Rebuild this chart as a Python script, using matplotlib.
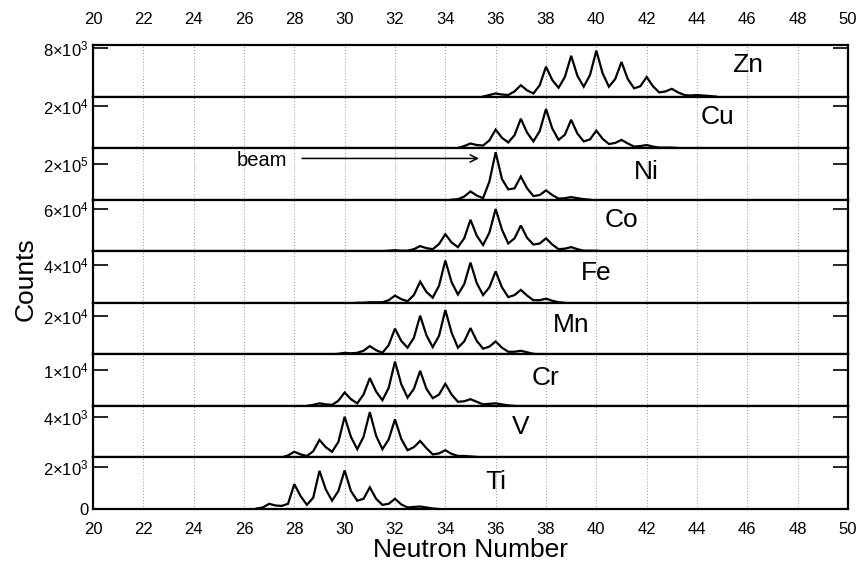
import matplotlib
matplotlib.use("Agg")
import matplotlib.pyplot as plt
import numpy as np

plt.rcParams['font.family'] = ['Liberation Sans', 'DejaVu Sans']
plt.rcParams['mathtext.fontset'] = 'custom'
plt.rcParams['mathtext.rm'] = 'Liberation Sans'
plt.rcParams['mathtext.it'] = 'Liberation Sans:italic'
plt.rcParams['mathtext.bf'] = 'Liberation Sans:bold'

# ---- data (counts sampled every 0.25 in neutron number) ----
elements = ["Zn", "Cu", "Ni", "Co", "Fe", "Mn", "Cr", "V", "Ti"]
bin_width = 0.25

zn_start = 35.5
zn_counts = [0, 260, 510, 340, 260, 850, 1870, 1020, 510, 1870, 4930, 2720, 1450, 3230,
             6720, 3400, 1620, 3570, 7570, 3830, 1620, 2890, 5700, 2890, 1360, 1700, 3230,
             1700, 680, 850, 1280, 680, 260, 170, 260, 170, 90, 0]

cu_start = 34.5
cu_counts = [0, 990, 2220, 1480, 1240, 3710, 8890, 4940, 2720, 6180, 14080, 7410, 3210, 8150,
             18770, 9390, 3950, 6420, 13590, 6920, 3210, 4200, 8400, 4450, 1980, 2470, 3950,
             2220, 740, 990, 1480, 740, 250, 250, 250, 0]

ni_start = 34.25
ni_counts = [0, 2900, 17400, 46400, 23200, 8700, 101500, 266800, 116000, 58000, 63800, 130500,
             63800, 20300, 26100, 52200, 26100, 5800, 8700, 14500, 8700, 2900, 0]

co_start = 31.5
co_counts = [0, 740, 1480, 740, 740, 2960, 7400, 4440, 2960, 10360, 24420, 12580, 5920, 18500,
             45140, 22200, 8880, 26640, 60680, 31080, 11100, 18500, 37000, 19240, 9620, 11100,
             18500, 9620, 2960, 3700, 5920, 2960, 740, 740, 740, 0]

fe_start = 30.5
fe_counts = [0, 0, 550, 550, 550, 2750, 7700, 3850, 1650, 8250, 22550, 11550, 5500, 18150,
             45100, 22000, 8800, 19800, 42900, 20900, 8250, 16500, 33550, 16500, 6050, 8250,
             13750, 7700, 2750, 2750, 4400, 2200, 550, 0]

mn_start = 29.5
mn_counts = [0, 270, 800, 530, 800, 1870, 4270, 2140, 800, 4810, 13350, 6940, 3470, 8540,
             20030, 9880, 3740, 9610, 22960, 11210, 3470, 6680, 13620, 6940, 2940, 4010, 6680,
             3470, 1340, 1340, 1870, 1070, 270, 0]

cr_start = 28.5
cr_counts = [0, 290, 730, 440, 290, 1450, 3770, 1890, 730, 3190, 7830, 4060, 1600, 5080, 12470,
             6090, 2320, 4790, 9860, 4790, 2180, 3190, 6240, 3190, 1160, 1310, 1890, 1160, 440,
             580, 730, 440, 150, 0]

v_start = 27.5
v_counts = [0, 200, 560, 300, 150, 610, 1720, 1010, 560, 1520, 4000, 2020, 810, 2020, 4450,
            2130, 810, 1770, 3740, 1820, 710, 1010, 1620, 910, 300, 400, 710, 350, 150, 150,
            100, 50, 0]

ti_start = 26.5
ti_counts = [25, 75, 250, 170, 150, 250, 1190, 620, 200, 540, 1830, 940, 400, 860, 1850, 860,
             400, 490, 1040, 490, 200, 250, 490, 220, 75, 100, 120, 75, 25, 0]

starts = [zn_start, cu_start, ni_start, co_start, fe_start, mn_start, cr_start, v_start, ti_start]
series = [zn_counts, cu_counts, ni_counts, co_counts, fe_counts, mn_counts, cr_counts, v_counts, ti_counts]

panel_max = [8500, 24700, 290000, 74000, 55000, 26700, 14500, 5060, 2470]
tick_values = [8e3, 2e4, 2e5, 6e4, 4e4, 2e4, 1e4, 4e3, 2e3]
tick_labels = [r"$8{\times}10^{3}$", r"$2{\times}10^{4}$", r"$2{\times}10^{5}$",
               r"$6{\times}10^{4}$", r"$4{\times}10^{4}$", r"$2{\times}10^{4}$",
               r"$1{\times}10^{4}$", r"$4{\times}10^{3}$", r"$2{\times}10^{3}$"]

# label positions (neutron number, fraction of panel height)
label_x = [46.0, 44.8, 42.0, 41.0, 40.0, 39.0, 38.0, 37.0, 36.0]
label_y = [0.62, 0.60, 0.53, 0.60, 0.58, 0.56, 0.54, 0.60, 0.53]

x_ticks = list(range(20, 51, 2))

fig = plt.figure(figsize=(8.64, 5.69), dpi=100)
axes = fig.subplots(len(elements), 1, sharex=True, gridspec_kw=dict(hspace=0))
fig.subplots_adjust(left=0.1076, right=0.9815, top=0.9209, bottom=0.1054)

last = len(elements) - 1
for i, ax in enumerate(axes):
    c = np.asarray(series[i], dtype=float)
    n = starts[i] + bin_width * np.arange(len(c))
    ax.plot(n, c, color='black', lw=1.6, solid_joinstyle='miter')
    ax.set_xlim(20, 50)
    ax.set_ylim(0, panel_max[i])
    if i == last:
        ax.set_yticks([0, tick_values[i]])
        ax.set_yticklabels(["0", tick_labels[i]])
    else:
        ax.set_yticks([tick_values[i]])
        ax.set_yticklabels([tick_labels[i]])
    ax.tick_params(axis='y', direction='in', length=11, width=1.2, left=True, right=True,
                   labelsize=12, pad=3)
    ax.set_xticks(x_ticks)
    ax.tick_params(axis='x', direction='in', length=0, labelsize=12,
                   top=(i == 0), bottom=(i == last),
                   labeltop=(i == 0), labelbottom=(i == last),
                   pad=(13 if i == 0 else 9))
    ax.grid(axis='x', linestyle=(0, (1, 2.5)), color='0.45', lw=0.6)
    for s in ax.spines.values():
        s.set_linewidth(1.6)
    ax.text(label_x[i], label_y[i] * panel_max[i], elements[i], fontsize=19,
            ha='center', va='center')

# beam arrow in Ni panel
ni_ax = axes[2]
ni_ax.annotate("", xy=(35.45, 0.80 * panel_max[2]), xytext=(28.2, 0.80 * panel_max[2]),
               arrowprops=dict(arrowstyle='->', color='black', lw=1.1, mutation_scale=13))
ni_ax.text(25.7, 0.76 * panel_max[2], "beam", fontsize=14.5, ha='left', va='center')

fig.text(0.030, 0.51, "Counts", rotation=90, fontsize=19, ha='center', va='center')
fig.text(0.5446, 0.034, "Neutron Number", fontsize=19, ha='center', va='center')

fig.savefig("out.png", dpi=100)
